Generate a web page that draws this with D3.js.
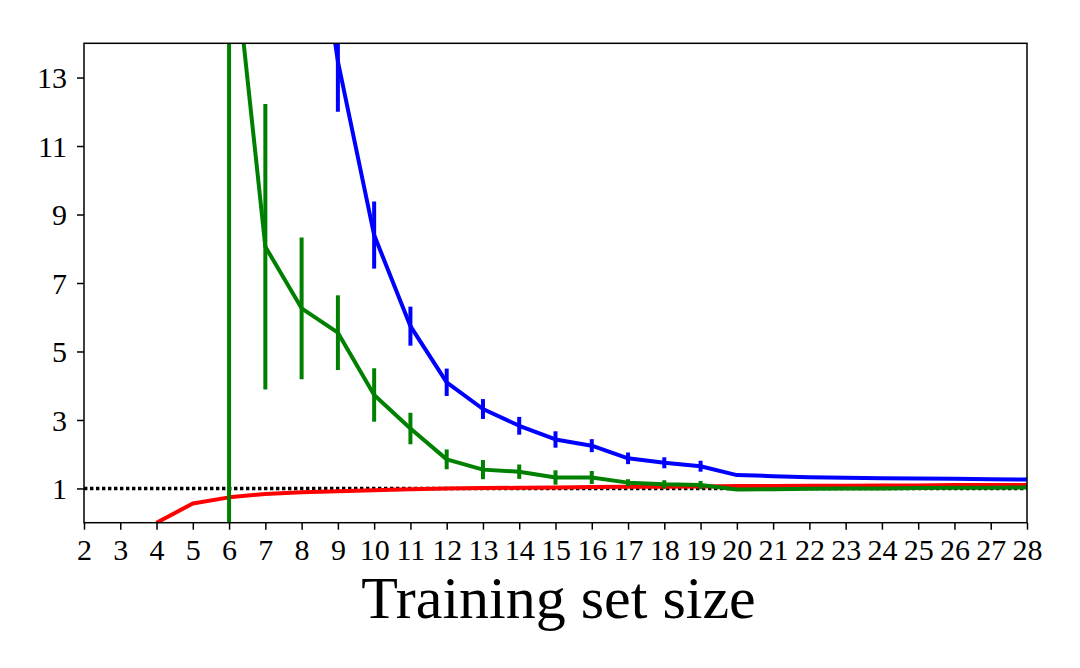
<!DOCTYPE html>
<html>
<head>
<meta charset="utf-8">
<script src="https://cdn.jsdelivr.net/npm/d3@7"></script>
<style>
  html, body { margin: 0; padding: 0; background: #fff; }
  svg { display: block; }
  text { font-family: "Liberation Serif", "Times New Roman", serif; fill: #000; }
</style>
</head>
<body>
<svg id="chart" width="1080" height="668"></svg>
<script>
// data
var xTicks = d3.range(2, 29);
var yTicks = [1, 3, 5, 7, 9, 11, 13];

var blueX = d3.range(8, 29);
var blueMean = [20.8, 13.47, 8.40, 5.74, 4.10, 3.32, 2.83, 2.43, 2.25, 1.88, 1.75, 1.65, 1.39, 1.36, 1.33, 1.31, 1.30, 1.29, 1.28, 1.27, 1.26];
var blueErr = [3.0, 1.47, 0.98, 0.57, 0.40, 0.29, 0.26, 0.24, 0.19, 0.17, 0.16, 0.16, 0, 0, 0, 0, 0, 0, 0, 0, 0];

var greenX = d3.range(6, 29);
var greenMean = [18.0, 8.06, 6.26, 5.55, 3.73, 2.75, 1.85, 1.55, 1.49, 1.32, 1.32, 1.17, 1.12, 1.10, 0.97, 0.98, 0.99, 1.00, 1.00, 1.01, 1.02, 1.02, 1.03];
var greenErr = [20.0, 4.17, 2.07, 1.09, 0.78, 0.46, 0.29, 0.28, 0.21, 0.21, 0.19, 0.10, 0.12, 0.12, 0, 0, 0, 0, 0, 0, 0, 0, 0];

var redX = d3.range(4, 29);
var redMean = [0.0, 0.56, 0.74, 0.84, 0.89, 0.92, 0.95, 0.98, 1.00, 1.01, 1.02, 1.03, 1.04, 1.05, 1.05, 1.06, 1.07, 1.07, 1.08, 1.08, 1.09, 1.09, 1.10, 1.10, 1.10];

var refLine = 1;

var plotLeft = 84, plotRight = 1027, plotTop = 43.3, plotBottom = 522.7;

var svg = d3.select('#chart');

var x = d3.scaleLinear().domain([2, 28]).range([plotLeft, plotRight]);
var y = d3.scaleLinear().domain([0, 14]).range([plotBottom, plotTop]);

svg.append('clipPath').attr('id', 'plotclip')
  .append('rect')
  .attr('x', plotLeft).attr('y', plotTop)
  .attr('width', plotRight - plotLeft).attr('height', plotBottom - plotTop);

var plot = svg.append('g').attr('clip-path', 'url(#plotclip)');

// dotted reference line at 1
plot.append('line')
  .attr('x1', x(2)).attr('x2', x(28))
  .attr('y1', y(refLine)).attr('y2', y(refLine))
  .attr('stroke', '#000')
  .attr('stroke-width', 3.6)
  .attr('stroke-dasharray', '3.4,2.6');

var line = d3.line()
  .x(function (d) { return x(d[0]); })
  .y(function (d) { return y(d[1]); });

var series = [
  { xs: redX, mean: redMean, err: null, color: '#ff0000' },
  { xs: blueX, mean: blueMean, err: blueErr, color: '#0000ff' },
  { xs: greenX, mean: greenMean, err: greenErr, color: '#008000' }
];

series.forEach(function (s) {
  var pts = s.xs.map(function (v, i) {
    return { x: v, m: s.mean[i], e: s.err ? s.err[i] : 0 };
  });
  plot.append('path')
    .datum(pts.map(function (d) { return [d.x, d.m]; }))
    .attr('d', line)
    .attr('fill', 'none')
    .attr('stroke', s.color)
    .attr('stroke-width', 4)
    .attr('stroke-linejoin', 'round');

  plot.selectAll(null)
    .data(pts.filter(function (d) { return d.e > 0; }))
    .enter()
    .append('line')
    .attr('x1', function (d) { return x(d.x); })
    .attr('x2', function (d) { return x(d.x); })
    .attr('y1', function (d) { return y(d.m + d.e); })
    .attr('y2', function (d) { return y(d.m - d.e); })
    .attr('stroke', s.color)
    .attr('stroke-width', 4);
});

// frame
svg.append('rect')
  .attr('x', plotLeft).attr('y', plotTop)
  .attr('width', plotRight - plotLeft).attr('height', plotBottom - plotTop)
  .attr('fill', 'none')
  .attr('stroke', '#000')
  .attr('stroke-width', 1.5);

// x axis
var xAxis = svg.append('g')
  .attr('transform', 'translate(0,' + plotBottom + ')')
  .call(d3.axisBottom(x).tickValues(xTicks).tickFormat(d3.format('d')).tickSize(7).tickSizeOuter(0));
xAxis.select('.domain').remove();
xAxis.selectAll('.tick line').attr('stroke', '#000').attr('stroke-width', 1.5);
xAxis.selectAll('.tick text')
  .attr('y', 37).attr('dy', 0)
  .style('font-size', '30px');

// y axis
var yAxis = svg.append('g')
  .attr('transform', 'translate(' + plotLeft + ',0)')
  .call(d3.axisLeft(y).tickValues(yTicks).tickFormat(d3.format('d')).tickSize(7).tickSizeOuter(0));
yAxis.select('.domain').remove();
yAxis.selectAll('.tick line').attr('stroke', '#000').attr('stroke-width', 1.5);
yAxis.selectAll('.tick text')
  .attr('x', -17)
  .attr('dy', '0.34em')
  .style('font-size', '30px');

// x axis title
svg.append('text')
  .attr('x', (plotLeft + plotRight) / 2 + 3)
  .attr('y', 618)
  .attr('text-anchor', 'middle')
  .style('font-size', '60px')
  .text('Training set size');
</script>
</body>
</html>
